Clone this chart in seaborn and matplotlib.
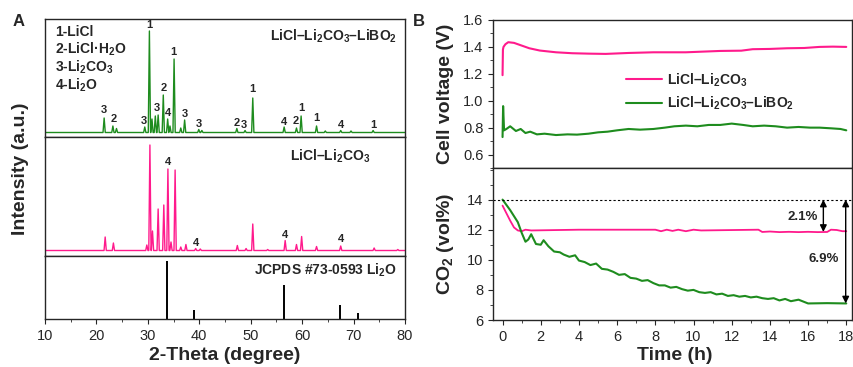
import pandas as pd
import seaborn as sns
import matplotlib.pyplot as plt
from matplotlib.ticker import MultipleLocator

PINK = '#FF1A8C'
GREEN = '#1E8C1E'

# ---- panel A: XRD peaks (2-theta in degree, intensity in a.u.) ----
green_base = 4.5
green_pos = [21.5, 23.2, 23.9, 29.4, 30.3, 30.8, 31.45, 32.0, 33.0, 33.85, 34.3, 35.1, 36.4,
             37.15, 39.9, 40.5, 47.3, 48.9, 50.4, 56.5, 58.9, 59.8, 62.8, 64.5, 67.5, 69.5, 73.8]
green_int = [19, 11, 8.5, 10, 106, 18, 21, 22, 42, 18, 11, 78, 9,
             17, 7.5, 6.5, 8.5, 6.5, 39, 10, 9, 21, 11, 6, 6.5, 6, 6.5]

pink_base = 5.5
pink_pos = [21.7, 23.3, 29.8, 30.4, 30.9, 32.0, 33.1, 33.9, 34.5, 35.3, 36.4, 37.4, 39.3,
            40.2, 47.4, 49.1, 50.4, 53.3, 56.7, 58.9, 59.9, 62.8, 67.5, 74.0, 78.6]
pink_int = [19, 13, 11, 111, 25, 47, 51, 87, 14, 86, 9, 11.5, 7.5,
            7, 10.5, 7.5, 32, 6.5, 15.5, 11.5, 19.5, 9.5, 10, 8, 6.5]

ref_pos = [33.65, 39.0, 56.5, 67.4, 70.9]
ref_int = [58, 9, 34, 14, 6.3]

# peak labels (position, text, height of label)
green_lab_pos = [21.5, 23.3, 29.3, 30.2, 31.7, 33.0, 34.0, 35.0, 37.1, 39.9, 47.3, 48.75,
                 50.4, 56.5, 58.7, 59.8, 62.7, 67.5, 73.8]
green_lab_txt = ['3', '2', '3', '1', '3', '2', '4', '1', '3', '3', '2', '3',
                 '1', '4', '2', '1', '1', '4', '1']
green_lab_y = [27, 17.7, 16.3, 112, 28.7, 48.7, 24.3, 85.3, 23, 13, 14.3, 12,
               47.7, 15, 16.3, 29.3, 18.7, 12, 12]

pink_lab_pos = [33.85, 39.3, 56.7, 67.5]
pink_lab_y = [93.7, 13.3, 21, 16.7]

phases = ['1-LiCl', '2-LiCl·H$_2$O', '3-Li$_2$CO$_3$', '4-Li$_2$O']

# ---- panel B: cell voltage and CO2 outlet ----
pv_time = [0, 0.02, 0.05, 0.15, 0.3, 0.6, 0.9, 1.4, 1.95, 2.8, 3.65, 4.5, 5.4, 6.6, 7.9,
           9.6, 11.4, 12.5, 13.1, 14.0, 14.9, 15.8, 16.6, 17.3, 18.0]
pv_volt = [1.19, 1.38, 1.40, 1.42, 1.435, 1.43, 1.415, 1.39, 1.373, 1.36, 1.353, 1.35, 1.348,
           1.355, 1.36, 1.36, 1.37, 1.372, 1.383, 1.385, 1.39, 1.392, 1.40, 1.402, 1.40]

gv_time = [0, 0.03, 0.08, 0.2, 0.4, 0.7, 0.95, 1.2, 1.45, 1.8, 2.2, 2.8, 3.4, 3.9, 4.5, 5.0,
           5.5, 6.0, 6.6, 7.2, 7.9, 8.5, 9.0, 9.6, 10.2, 10.8, 11.4, 12.0, 12.6, 13.1, 13.7,
           14.3, 14.9, 15.5, 16.1, 16.6, 17.2, 17.7, 18.0]
gv_volt = [0.73, 0.96, 0.78, 0.79, 0.81, 0.775, 0.79, 0.76, 0.77, 0.75, 0.755, 0.745, 0.75,
           0.748, 0.755, 0.765, 0.77, 0.78, 0.79, 0.785, 0.79, 0.80, 0.81, 0.815, 0.81, 0.82,
           0.82, 0.83, 0.82, 0.81, 0.815, 0.81, 0.80, 0.805, 0.80, 0.80, 0.795, 0.79, 0.78]

pc_time = [0, 0.2, 0.4, 0.6, 0.8, 1.0, 1.2, 1.5, 4.0, 8.0, 8.3, 8.6, 8.9, 9.2, 9.6, 10.0, 10.4,
           13.4, 13.6, 14.0, 14.5, 15.0, 15.5, 16.0, 16.5, 17.0, 17.2, 17.5, 17.8, 18.0]
pc_co2 = [13.6, 13.1, 12.6, 12.15, 11.95, 11.9, 12.0, 11.95, 12.0, 12.0, 11.9, 12.0, 11.92,
          12.0, 11.9, 12.0, 11.95, 12.0, 11.85, 11.88, 11.84, 11.86, 11.84, 11.86, 11.84, 11.85,
          12.0, 11.98, 11.9, 11.9]

gc_time = [0, 0.4, 0.8, 1.0, 1.2, 1.35, 1.5, 1.75, 2.0, 2.15, 2.4, 2.7, 3.0, 3.2, 3.5, 3.8,
           4.0, 4.3, 4.6, 4.9, 5.2, 5.5, 5.8, 6.1, 6.4, 6.7, 7.0, 7.3, 7.6, 7.9, 8.2, 8.5, 8.8,
           9.1, 9.4, 9.7, 10.0, 10.3, 10.6, 10.9, 11.2, 11.5, 11.8, 12.1, 12.4, 12.7, 13.0,
           13.3, 13.6, 13.9, 14.2, 14.5, 14.8, 15.1, 15.5, 15.8, 16.0, 17.0, 18.0]
gc_co2 = [14.0, 13.3, 12.5, 11.8, 11.2, 11.35, 11.7, 11.05, 11.0, 11.3, 10.9, 10.55, 10.5,
          10.35, 10.2, 10.3, 9.95, 9.85, 9.65, 9.75, 9.4, 9.35, 9.2, 9.0, 9.05, 8.8, 8.75,
          8.6, 8.65, 8.45, 8.3, 8.3, 8.15, 8.2, 8.05, 7.95, 8.0, 7.85, 7.8, 7.85, 7.7, 7.75,
          7.6, 7.65, 7.55, 7.6, 7.5, 7.55, 7.45, 7.4, 7.45, 7.3, 7.4, 7.25, 7.35, 7.2, 7.1,
          7.12, 7.1]


def pattern(pos, height, base, w=0.22):
    x, y = [10.0], [base]
    for p, h in zip(pos, height):
        x += [p - w, p, p + w]
        y += [base, h, base]
    x.append(80.0)
    y.append(base)
    return pd.DataFrame({'theta': x, 'intensity': y})


sns.set_style('ticks')
plt.rcParams['font.family'] = ['Liberation Sans', 'DejaVu Sans']
plt.rcParams['mathtext.fontset'] = 'custom'
plt.rcParams['mathtext.bf'] = 'Liberation Sans:bold'
plt.rcParams['mathtext.rm'] = 'Liberation Sans:bold'
plt.rcParams['mathtext.default'] = 'bf'
plt.rcParams['axes.linewidth'] = 1.0
plt.rcParams['xtick.labelsize'] = 10.5
plt.rcParams['ytick.labelsize'] = 10.5

W, H = 854, 367
fig = plt.figure(figsize=(W / 100, H / 100), dpi=100)


def box(x0, y0, x1, y1):
    return fig.add_axes([x0 / W, 1 - y1 / H, (x1 - x0) / W, (y1 - y0) / H])


ax_g = box(45, 19, 405, 137)
ax_p = box(45, 137, 405, 256)
ax_r = box(45, 256, 405, 319)
ax_v = box(493, 20, 852, 168)
ax_c = box(493, 168, 852, 320)

bold = dict(fontweight='bold')

# ---- panel A ----
sns.lineplot(data=pattern(green_pos, green_int, green_base), x='theta', y='intensity',
             color=GREEN, lw=1.0, sort=False, estimator=None, ax=ax_g)
sns.lineplot(data=pattern(pink_pos, pink_int, pink_base), x='theta', y='intensity',
             color=PINK, lw=1.0, sort=False, estimator=None, ax=ax_p)
ax_r.vlines(ref_pos, 0, ref_int, color='k', lw=1.4)

for ax, top in [(ax_g, 118), (ax_p, 119), (ax_r, 63)]:
    ax.set_xlim(10, 80)
    ax.set_ylim(0, top)
    ax.set_yticks([])
    ax.set_xlabel('')
    ax.set_ylabel('')
ax_g.set_xticks([])
ax_p.set_xticks([])
ax_r.xaxis.set_major_locator(MultipleLocator(10))
ax_r.xaxis.set_minor_locator(MultipleLocator(5))
ax_r.tick_params(axis='x', which='minor', length=2.5)

for p, t, y in zip(green_lab_pos, green_lab_txt, green_lab_y):
    ax_g.text(p, y, t, ha='center', va='center', fontsize=8, **bold)
for p, y in zip(pink_lab_pos, pink_lab_y):
    ax_p.text(p, y, '4', ha='center', va='center', fontsize=8, **bold)
for i, s in enumerate(phases):
    ax_g.text(11.9, 105 - 17.7 * i, s, ha='left', va='center', fontsize=10, **bold)
ax_g.text(78.4, 101, 'LiCl–Li$_2$CO$_3$–LiBO$_2$', ha='right', va='center', fontsize=10, **bold)
ax_p.text(73.2, 99.3, 'LiCl–Li$_2$CO$_3$', ha='right', va='center', fontsize=10, **bold)
ax_r.text(78.4, 49, 'JCPDS #73-0593 Li$_2$O', ha='right', va='center', fontsize=10, **bold)

# ---- panel B ----
sns.lineplot(x=pv_time, y=pv_volt, color=PINK, lw=1.5, sort=False, estimator=None,
             ax=ax_v, label='LiCl–Li$_2$CO$_3$')
sns.lineplot(x=gv_time, y=gv_volt, color=GREEN, lw=1.5, sort=False, estimator=None,
             ax=ax_v, label='LiCl–Li$_2$CO$_3$–LiBO$_2$')
sns.lineplot(x=pc_time, y=pc_co2, color=PINK, lw=1.3, sort=False, estimator=None, ax=ax_c)
sns.lineplot(x=gc_time, y=gc_co2, color=GREEN, lw=1.5, sort=False, estimator=None, ax=ax_c)

for ax in (ax_v, ax_c):
    ax.set_xlim(-0.5, 18.3)
    ax.xaxis.set_major_locator(MultipleLocator(2))
    ax.xaxis.set_minor_locator(MultipleLocator(1))
    ax.tick_params(which='minor', length=2.5)
    ax.set_xlabel('')
    ax.set_ylabel('')
ax_v.tick_params(axis='x', labelbottom=False)
ax_v.set_ylim(0.5, 1.6)
ax_v.set_yticks([0.6, 0.8, 1.0, 1.2, 1.4, 1.6])
ax_v.yaxis.set_minor_locator(MultipleLocator(0.1))
ax_c.set_ylim(6, 16.1)
ax_c.set_yticks([6, 8, 10, 12, 14])
ax_c.yaxis.set_minor_locator(MultipleLocator(1))

ax_v.legend(loc='upper left', bbox_to_anchor=(0.35, 0.70), frameon=False,
            handlelength=2.6, handletextpad=0.4, labelspacing=0.45, borderpad=0,
            prop={'weight': 'bold', 'size': 10})

ax_c.axhline(14, color='k', ls=(0, (2, 2)), lw=0.8)
arrow = dict(arrowstyle='<|-|>', color='k', lw=1.0, mutation_scale=10, shrinkA=0, shrinkB=0)
ax_c.annotate('', xy=(16.8, 11.85), xytext=(16.8, 14), arrowprops=arrow)
ax_c.annotate('', xy=(17.97, 7.1), xytext=(17.97, 14), arrowprops=arrow)
ax_c.text(15.7, 12.85, '2.1%', ha='center', va='center', fontsize=9.5, **bold)
ax_c.text(16.8, 10.03, '6.9%', ha='center', va='center', fontsize=9.5, **bold)

# ---- shared labels ----
fig.text(21 / W, 1 - 169 / H, 'Intensity (a.u.)', rotation=90, ha='center', va='center',
         fontsize=14, **bold)
fig.text(225 / W, 1 - 355 / H, '2-Theta (degree)', ha='center', va='center', fontsize=14, **bold)
fig.text(446 / W, 1 - 94 / H, 'Cell voltage (V)', rotation=90, ha='center', va='center',
         fontsize=14, **bold)
fig.text(446 / W, 1 - 244 / H, 'CO$_2$ (vol%)', rotation=90, ha='center', va='center',
         fontsize=14, **bold)
fig.text(675 / W, 1 - 356 / H, 'Time (h)', ha='center', va='center', fontsize=14, **bold)
fig.text(19 / W, 1 - 22 / H, 'A', ha='center', va='center', fontsize=12, **bold)
fig.text(419 / W, 1 - 22 / H, 'B', ha='center', va='center', fontsize=12, **bold)

fig.savefig('out.png', dpi=100)
